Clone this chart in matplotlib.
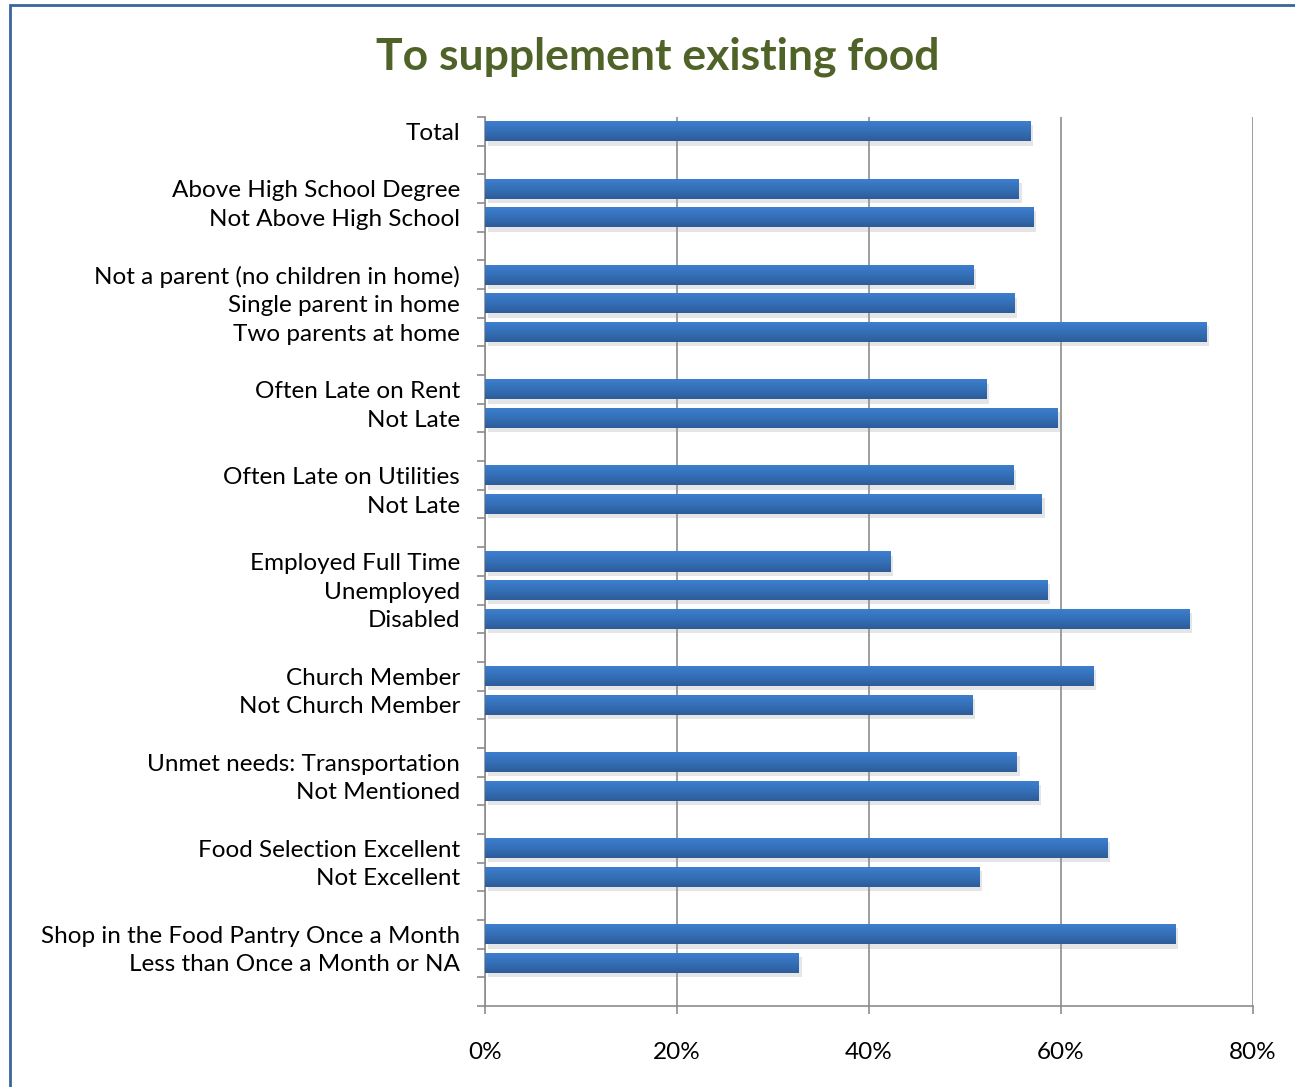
import matplotlib
matplotlib.use("Agg")
import matplotlib.pyplot as plt
import matplotlib.patheffects as pe
from matplotlib.patches import Rectangle
from matplotlib.colors import LinearSegmentedColormap
from matplotlib.ticker import FixedLocator, PercentFormatter
import numpy as np

# categories top to bottom, None marks an empty slot between groups
labels = [
    "Total", None,
    "Above High School Degree", "Not Above High School", None,
    "Not a parent (no children in home)", "Single parent in home", "Two parents at home", None,
    "Often Late on Rent", "Not Late", None,
    "Often Late on Utilities", "Not Late", None,
    "Employed Full Time", "Unemployed", "Disabled", None,
    "Church Member", "Not Church Member", None,
    "Unmet needs: Transportation", "Not Mentioned", None,
    "Food Selection Excellent", "Not Excellent", None,
    "Shop in the Food Pantry Once a Month", "Less than Once a Month or NA", None,
]
values = [
    56.8, None,
    55.6, 57.1, None,
    50.9, 55.1, 75.1, None,
    52.2, 59.6, None,
    55.0, 58.0, None,
    42.2, 58.6, 73.4, None,
    63.4, 50.8, None,
    55.4, 57.6, None,
    64.8, 51.5, None,
    71.9, 32.7, None,
]
xticks = [0, 20, 40, 60, 80]

n = len(labels)
pos = np.arange(n)
idx = [i for i, v in enumerate(values) if v is not None]

fig = plt.figure(figsize=(12.95, 10.87), dpi=100)
plt.rcParams["font.family"] = ["Lato", "DejaVu Sans"]
ax = fig.add_axes([0.3745, 0.0745, 0.5931, 0.8179])

bars = ax.barh([pos[i] for i in idx], [values[i] for i in idx], height=0.7,
               color="#3873bf", zorder=3)
# vertical gradient on each bar, light on top, darker at the bottom
grad_cmap = LinearSegmentedColormap.from_list("bar", ["#3f80d0", "#3570b9", "#2d5c99"])
grad = np.linspace(0, 1, 64).reshape(-1, 1)
for b in bars:
    b.set_path_effects([pe.SimplePatchShadow(offset=(2, -3), shadow_rgbFace="#999999", alpha=0.25),
                        pe.Normal()])
    x0, y0 = b.get_x(), b.get_y()
    w, h = b.get_width(), b.get_height()
    im = ax.imshow(grad, cmap=grad_cmap, aspect="auto", extent=(x0, x0 + w, y0 + h, y0),
                   zorder=4, interpolation="bilinear")
    im.set_clip_path(b)

ax.set_ylim(n - 0.5, -0.5)
ax.set_xlim(0, 80)
ax.yaxis.set_major_locator(FixedLocator([pos[i] for i in idx]))
ax.set_yticklabels([labels[i] for i in idx], fontsize=17.5)
ax.yaxis.set_minor_locator(FixedLocator(np.arange(n + 1) - 0.5))
ax.tick_params(axis="y", which="major", length=0, pad=18)
ax.tick_params(axis="y", which="minor", length=6, color="#8c8c8c", width=1.2)

ax.xaxis.set_major_locator(FixedLocator(xticks))
ax.xaxis.set_major_formatter(PercentFormatter(decimals=0))
ax.tick_params(axis="x", length=6, color="#8c8c8c", width=1.2, labelsize=17.5, pad=20)

ax.grid(axis="x", color="#8c8c8c", linewidth=1.2, zorder=0)
ax.set_axisbelow(True)
for s in ["top", "right"]:
    ax.spines[s].set_visible(False)
for s in ["left", "bottom"]:
    ax.spines[s].set_color("#8c8c8c")
    ax.spines[s].set_linewidth(1.2)

fig.text(0.508, 1 - 57 / 1087, "To supplement existing food", ha="center", va="center",
         fontsize=32, fontweight="bold", color="#4f6228")

fig.patches.append(Rectangle((10 / 1295, -0.01), 1.0, 1 - 5 / 1087 + 0.01, transform=fig.transFigure,
                             fill=False, edgecolor="#3a6699", linewidth=2))

fig.savefig("out.png", dpi=100)
